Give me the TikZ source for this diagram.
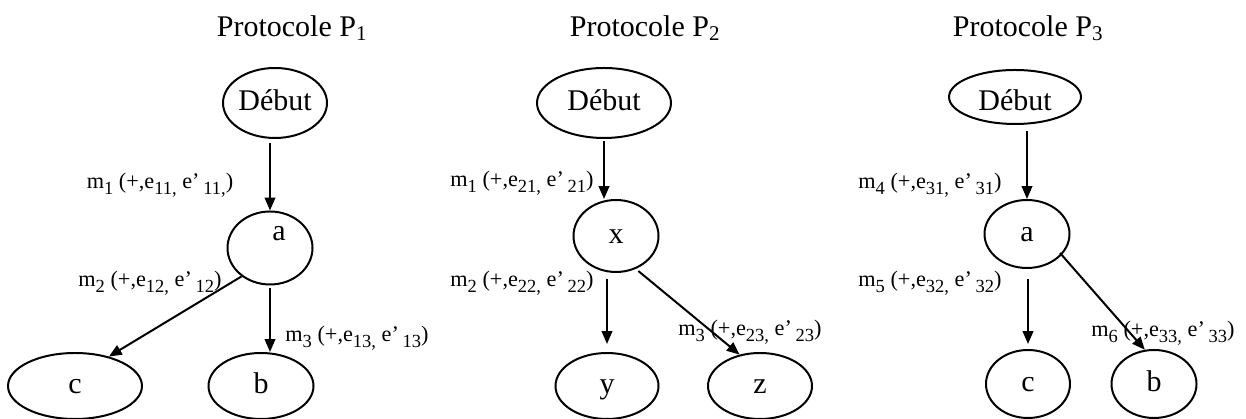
\documentclass[tikz,border=0pt]{standalone}
\usepackage{fontspec}
\setmainfont{Liberation Serif}
\usepackage{tikz}
\usetikzlibrary{calc,positioning,arrows.meta,shapes.geometric}
\newcommand{\indice}[1]{\raisebox{-5pt}{\fontsize{15.8}{15.8}\selectfont #1}}

\begin{document}
\begin{tikzpicture}[
    font=\fontsize{25.6}{30}\selectfont,
    etat/.style={draw, ellipse, line width=1.7pt, inner sep=0pt,
      text height=17.5pt, text depth=4.7pt},
    etiq/.style={font=\fontsize{19}{22}\selectfont},
    fleche/.style={-{Triangle[length=11pt,width=9pt]}, line width=1.7pt}
  ]
  \useasboundingbox (0,0) rectangle (37.38,12.57);
  % Protocole P1
  \node (titre1) at (8.76,11.73) {Protocole P\textsubscript{1}};
  \node[etat, minimum width=3.12cm, minimum height=2.10cm] (debut1) at (8.25,9.48) {Début};
  \node[etat, minimum width=2.55cm, minimum height=2.19cm,
    label={[xshift=0.27cm, yshift=0.45cm, text height=17.5pt, text depth=4.7pt]center:a}] (a1) at (8.10,5.13) {};
  \node[etat, minimum width=4.02cm, minimum height=1.98cm] (c1) at (2.25,0.99) {c};
  \node[etat, minimum width=3.15cm, minimum height=1.98cm] (b1) at (7.83,0.99) {b};
  \draw[fleche, shorten <=0.12cm] (debut1.south -| a1.north) -- (a1.north);
  \draw[fleche] (a1.-135) -- (c1.41);
  \draw[fleche, shorten <=0.08cm] (a1.south) -- (a1.south |- b1.north);
  \node[etiq] (m11) at (4.80,7.02) {m\indice{1} (+,e\indice{11,} e'\,\indice{11,})};
  \node[etiq] (m12) at (4.50,4.08) {m\indice{2} (+,e\indice{12,} e'\,\indice{12})};
  \node[etiq] (m13) at (10.71,2.43) {m\indice{3} (+,e\indice{13,} e'\,\indice{13})};
  % Protocole P2
  \node (titre2) at (19.35,11.73) {Protocole P\textsubscript{2}};
  \node[etat, minimum width=4.02cm, minimum height=2.10cm] (debut2) at (18.12,9.48) {Début};
  \node[etat, minimum width=2.55cm, minimum height=2.16cm] (x2) at (18.48,5.49) {x};
  \node[etat, minimum width=3.09cm, minimum height=1.98cm] (y2) at (18.21,0.99) {y};
  \node[etat, minimum width=3.12cm, minimum height=1.98cm] (z2) at (22.80,0.99) {z};
  \draw[fleche, shorten <=0.06cm] (debut2.south) -- (debut2.south |- x2.north);
  \draw[fleche, shorten <=0.18cm, shorten >=0.24cm] (x2.south -| y2.north) -- (y2.north);
  \draw[fleche, shorten <=0.1cm] (x2.-59) -- (z2.123);
  \node[etiq] (m21) at (15.66,7.08) {m\indice{1} (+,e\indice{21,} e'\,\indice{21})};
  \node[etiq] (m22) at (15.66,4.08) {m\indice{2} (+,e\indice{22,} e'\,\indice{22})};
  \node[etiq] (m23) at (22.50,2.61) {m\indice{3} (+,e\indice{23,} e'\,\indice{23})};
  % Protocole P3
  \node (titre3) at (30.84,11.73) {Protocole P\textsubscript{3}};
  \node[etat, minimum width=3.96cm, minimum height=1.62cm,
    text height=26pt, text depth=3pt] (debut3) at (30.45,9.66) {Début};
  \node[etat, minimum width=2.55cm, minimum height=2.04cm] (a3) at (30.81,5.55) {a};
  \node[etat, minimum width=2.52cm, minimum height=2.04cm] (c3) at (30.84,1.05) {c};
  \node[etat, minimum width=2.55cm, minimum height=2.04cm] (b3) at (34.62,1.05) {b};
  \draw[fleche, shorten <=0.18cm] (debut3.south -| a3.north) -- (a3.north);
  \draw[fleche, shorten <=0.3cm, shorten >=0.15cm] (a3.south -| c3.north) -- (c3.north);
  \draw[fleche] ([xshift=0.99cm, yshift=-0.57cm]a3.center) -- (b3.105);
  \node[etiq] (m34) at (27.90,7.02) {m\indice{4} (+,e\indice{31,} e'\,\indice{31})};
  \node[etiq] (m35) at (27.90,4.08) {m\indice{5} (+,e\indice{32,} e'\,\indice{32})};
  \node[etiq] (m36) at (34.89,2.58) {m\indice{6} (+,e\indice{33,} e'\,\indice{33})};
\end{tikzpicture}
\end{document}
